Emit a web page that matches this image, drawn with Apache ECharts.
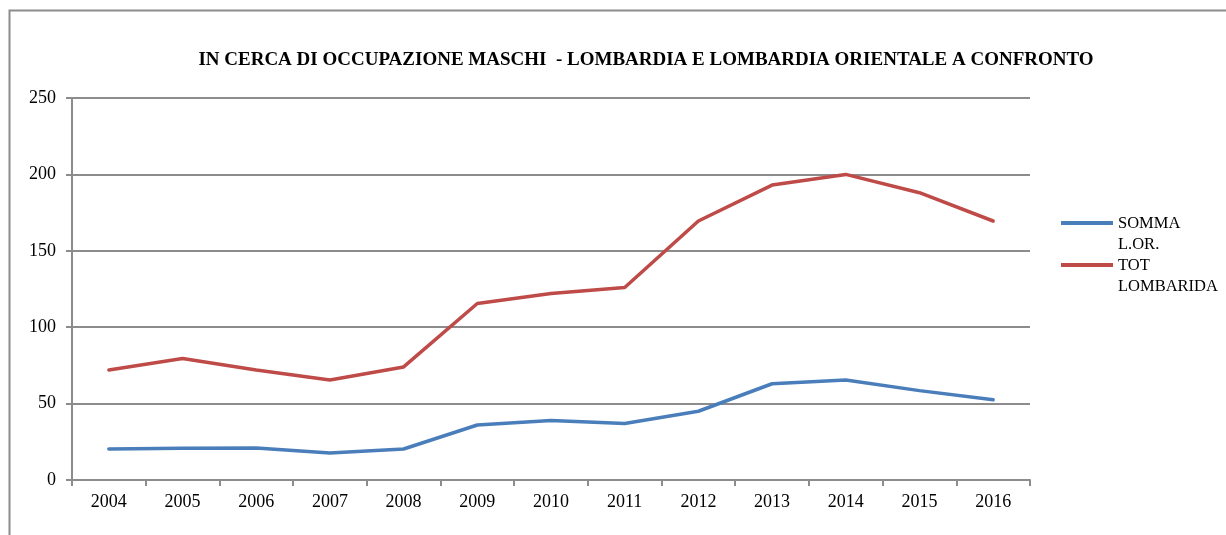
<!DOCTYPE html>
<html>
<head>
<meta charset="utf-8">
<style>
  html, body { margin: 0; padding: 0; background: #fff; }
  #chart { width: 1226px; height: 535px; }
</style>
<script src="https://cdn.jsdelivr.net/npm/echarts@6/dist/echarts.min.js"></script>
</head>
<body>
<div id="chart"></div>
<script>
// anni e valori
const years = ["2004", "2005", "2006", "2007", "2008", "2009", "2010", "2011", "2012", "2013", "2014", "2015", "2016"];
const sommaLor = [20.3, 20.8, 21, 17.7, 20.3, 36, 39, 37, 45, 63, 65.5, 58.5, 52.5];
const totLombardia = [72, 79.5, 72, 65.5, 74, 115.5, 122, 126, 169.5, 193, 200, 188, 169.5];
const yTicks = { min: 0, max: 250, interval: 50 };

const font = "Liberation Serif";
const gridGray = "#8c8c8c";

const chart = echarts.init(document.getElementById("chart"));

// icona della legenda: linea in alto, area vuota sotto (per allineare alla prima riga)
const legendIcon = "path://M0,8L52,8L52,12L0,12Z M0,0L0.01,0 M0,42L0.01,42";

const option = {
  backgroundColor: "#fff",
  animation: false,
  graphic: [
    {
      type: "rect",
      shape: { x: 9.5, y: 10.5, width: 1300, height: 600 },
      style: { fill: "none", stroke: gridGray, lineWidth: 2 },
      silent: true,
      z: -1
    }
  ],
  title: {
    text: "IN CERCA DI OCCUPAZIONE MASCHI  - LOMBARDIA E LOMBARDIA ORIENTALE A CONFRONTO",
    left: 641,
    textAlign: "center",
    top: 46,
    textStyle: { fontFamily: font, fontWeight: "bold", fontSize: 19, color: "#000" }
  },
  legend: {
    orient: "vertical",
    left: 1056,
    top: 208,
    itemWidth: 52,
    itemHeight: 42,
    itemGap: 0,
    icon: legendIcon,
    itemStyle: { borderWidth: 0 },
    textStyle: { fontFamily: font, fontSize: 16.5, color: "#000", lineHeight: 21 },
    data: ["SOMMA\nL.OR.", "TOT\nLOMBARIDA"]
  },
  grid: { left: 72, right: 196, top: 98, bottom: 55 },
  xAxis: {
    type: "category",
    data: years,
    boundaryGap: true,
    axisLine: { lineStyle: { color: gridGray, width: 2 } },
    axisTick: { show: true, length: 6, lineStyle: { color: gridGray, width: 2 } },
    axisLabel: { fontFamily: font, fontSize: 18, color: "#000", margin: 13 }
  },
  yAxis: {
    type: "value",
    min: yTicks.min,
    max: yTicks.max,
    interval: yTicks.interval,
    axisLine: { show: true, lineStyle: { color: gridGray, width: 2 } },
    axisTick: { show: true, length: 6, lineStyle: { color: gridGray, width: 2 } },
    axisLabel: { fontFamily: font, fontSize: 18, color: "#000", margin: 16 },
    splitLine: { lineStyle: { color: gridGray, width: 2 } }
  },
  series: [
    {
      name: "SOMMA\nL.OR.",
      type: "line",
      data: sommaLor,
      symbol: "none",
      color: "#4a7ebb",
      lineStyle: { width: 3.5, color: "#4a7ebb", cap: "round" }
    },
    {
      name: "TOT\nLOMBARIDA",
      type: "line",
      data: totLombardia,
      symbol: "none",
      color: "#be4b48",
      lineStyle: { width: 3.5, color: "#be4b48", cap: "round" }
    }
  ]
};

chart.setOption(option);
</script>
</body>
</html>
